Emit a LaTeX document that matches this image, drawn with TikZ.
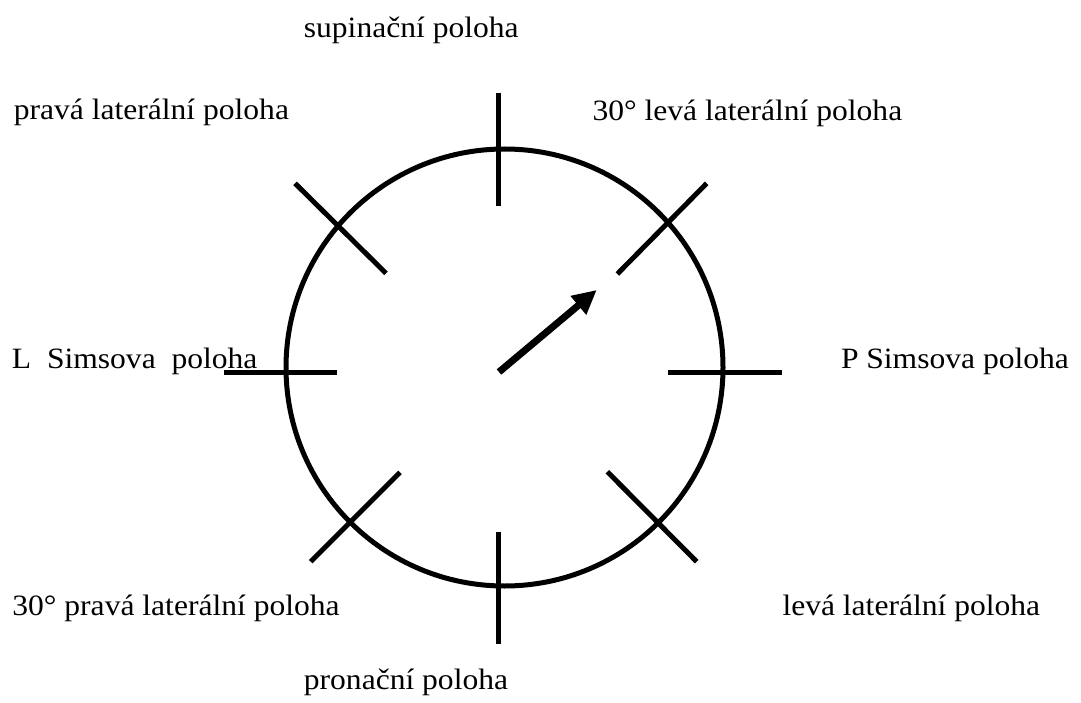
\documentclass[tikz,border=0pt]{standalone}
\usepackage{fontspec}
\setmainfont[FakeStretch=1.07]{Liberation Serif}
\usetikzlibrary{arrows.meta}
\begin{document}
\begin{tikzpicture}[x=1pt,y=-1pt,
  lbl/.style={anchor=base west,inner sep=0pt,outer sep=0pt,font=\fontsize{29.5}{35}\selectfont},
  ring/.style={line width=5pt},
  tickline/.style={line width=5.5pt,line cap=butt},
  diagline/.style={line width=5pt,line cap=butt},
  pointer/.style={line width=7pt,-{Triangle[length=24pt,width=23pt]}}]
\useasboundingbox[fill=white] (0,0) rectangle (1081,703);
% circle
\coordinate (cc) at (504.5,367.5);
\draw[ring] (cc) circle[radius=218.5pt];
% ticks
\coordinate (t1) at (498.7,92.7);  \coordinate (t2) at (498.7,205.7);
\coordinate (b1) at (498.7,531.7); \coordinate (b2) at (498.7,644);
\coordinate (l1) at (224,372.3);   \coordinate (l2) at (337,372.3);
\coordinate (r1) at (668,372.3);   \coordinate (r2) at (781.7,372.3);
\draw[tickline] (t1) -- (t2);
\draw[tickline] (b1) -- (b2);
\draw[tickline] (l1) -- (l2);
\draw[tickline] (r1) -- (r2);
% diagonal ticks
\coordinate (ul1) at (295,183.3);   \coordinate (ul2) at (386,273.3);
\coordinate (ur1) at (706.7,183.3); \coordinate (ur2) at (617.3,274);
\coordinate (ll1) at (400,472.3);   \coordinate (ll2) at (310.7,561.7);
\coordinate (lr1) at (607.3,471.7); \coordinate (lr2) at (696.7,561.7);
\draw[diagline] (ul1) -- (ul2);
\draw[diagline] (ur1) -- (ur2);
\draw[diagline] (ll1) -- (ll2);
\draw[diagline] (lr1) -- (lr2);
% arrow
\coordinate (atail) at (499,372);
\coordinate (ahead) at (596.7,290);
\draw[pointer] (atail) -- (ahead);
% labels
\node[lbl] (sup) at (303.9,37.3) {supinační poloha};
\node[lbl] (pl) at (13.8,119.3) {pravá laterální poloha};
\node[lbl] (ll30) at (592.5,120.5) {30° levá laterální poloha};
\node[lbl] (lsim) at (12,368.5) {L~~Simsova~~poloha};
\node[lbl] (psim) at (841,368.5) {P Simsova poloha};
\node[lbl] (pl30) at (12.4,615) {30° pravá laterální poloha};
\node[lbl] (lla) at (782.5,615) {levá laterální poloha};
\node[lbl] (pron) at (303.9,689) {pronační poloha};
\end{tikzpicture}
\end{document}
